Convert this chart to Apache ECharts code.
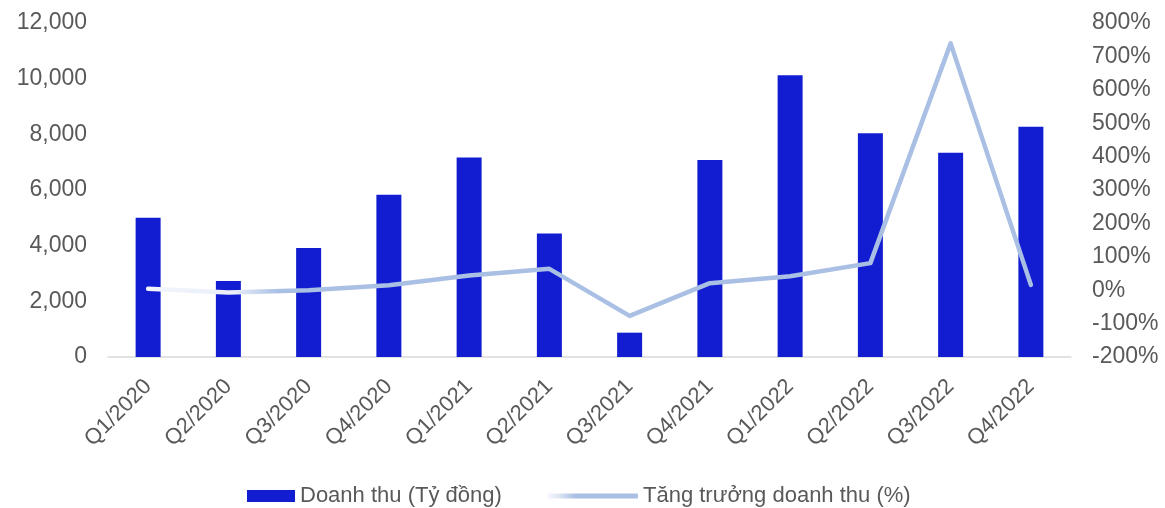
<!DOCTYPE html>
<html>
<head>
<meta charset="utf-8">
<script src="https://cdn.jsdelivr.net/npm/echarts@6/dist/echarts.min.js"></script>
<style>html,body{margin:0;padding:0;background:#fff;}#c{width:1165px;height:508px;}</style>
</head>
<body>
<div id="c"></div>
<script>
const categories = ['Q1/2020','Q2/2020','Q3/2020','Q4/2020','Q1/2021','Q2/2021','Q3/2021','Q4/2021','Q1/2022','Q2/2022','Q3/2022','Q4/2022'];
const revenue = [5000, 2730, 3920, 5830, 7170, 4440, 874, 7080, 10120, 8040, 7340, 8275];
const growth = [4, -7, 0, 15, 44, 64, -77, 21, 42, 81, 739, 16];
const leftTicks = [0, 2000, 4000, 6000, 8000, 10000, 12000];
const rightTicks = [-200, -100, 0, 100, 200, 300, 400, 500, 600, 700, 800];
const seriesNames = ['Doanh thu (Tỷ đồng)', 'Tăng trưởng doanh thu (%)'];

const FONT = '"Liberation Sans", Arial, sans-serif';
const TXT = '#595959';
const chart = echarts.init(document.getElementById('c'), null, {renderer: 'canvas'});
const lineColor = new echarts.graphic.LinearGradient(0, 0, 1, 0, [
  {offset: 0, color: '#f2f5fb'},
  {offset: 0.1, color: '#e9eef8'},
  {offset: 0.15, color: '#a9bfe4'},
  {offset: 1, color: '#a9bfe4'}
]);
const legendLineColor = new echarts.graphic.LinearGradient(0, 0, 1, 0, [
  {offset: 0, color: '#f2f5fb'},
  {offset: 0.12, color: '#dfe7f5'},
  {offset: 0.3, color: '#a9bfe4'},
  {offset: 1, color: '#a9bfe4'}
]);
chart.setOption({
  animation: false,
  textStyle: {fontFamily: FONT},
  grid: {left: 108, right: 94, top: 23, bottom: 151, containLabel: false},
  legend: [
    {data: [{name: seriesNames[0], icon: 'rect'}], left: 242, top: 480, itemWidth: 48, itemHeight: 12,
     textStyle: {fontSize: 22, color: TXT, fontFamily: FONT}},
    {data: [{name: seriesNames[1], icon: 'roundRect', itemStyle: {color: legendLineColor}}],
     left: 543, top: 480, itemWidth: 90, itemHeight: 5,
     textStyle: {fontSize: 22, color: TXT, fontFamily: FONT}}
  ],
  xAxis: {
    type: 'category', data: categories,
    axisLine: {lineStyle: {color: '#d9d9d9', width: 1.5}},
    axisTick: {show: false},
    axisLabel: {rotate: 45, fontSize: 22, color: TXT, margin: 26, fontFamily: FONT, interval: 0}
  },
  yAxis: [
    {type: 'value', min: leftTicks[0], max: leftTicks[leftTicks.length-1], interval: 2000,
     splitLine: {show: false}, axisLine: {show: false}, axisTick: {show: false},
     axisLabel: {fontSize: 23, color: TXT, margin: 21, fontFamily: FONT,
       formatter: v => v.toLocaleString('en-US')}},
    {type: 'value', min: rightTicks[0], max: rightTicks[rightTicks.length-1], interval: 100,
     splitLine: {show: false}, axisLine: {show: false}, axisTick: {show: false},
     axisLabel: {fontSize: 23, color: TXT, margin: 21, fontFamily: FONT, formatter: v => v + '%'}}
  ],
  series: [
    {name: seriesNames[0], type: 'bar', data: revenue, barWidth: 25, yAxisIndex: 0,
     itemStyle: {color: '#121dd1'}},
    {name: seriesNames[1], type: 'line', data: growth, yAxisIndex: 1, symbol: 'none', showSymbol: false,
     lineStyle: {color: lineColor, width: 4.5, cap: 'round', join: 'round'},
     itemStyle: {color: '#a9bfe4'}}
  ]
});
</script>
</body>
</html>
